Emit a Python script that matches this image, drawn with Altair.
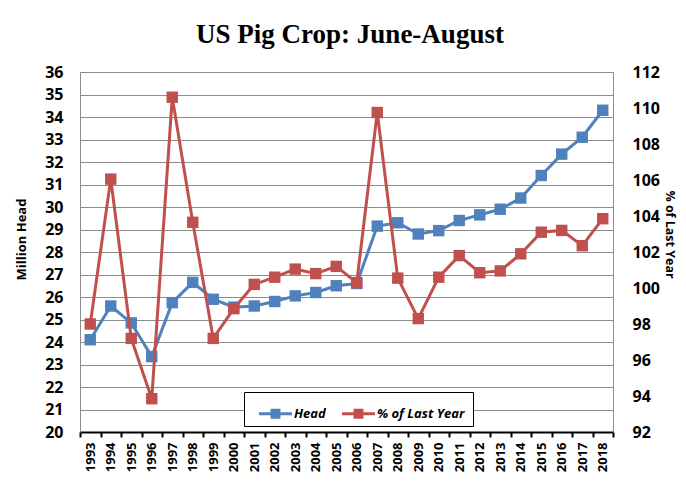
import altair as alt
import pandas as pd

title_text = "US Pig Crop: June-August"
years = ["1993", "1994", "1995", "1996", "1997", "1998", "1999", "2000", "2001",
         "2002", "2003", "2004", "2005", "2006", "2007", "2008", "2009", "2010",
         "2011", "2012", "2013", "2014", "2015", "2016", "2017", "2018"]
head = [24.1, 25.6, 24.85, 23.35, 25.75, 26.65, 25.9, 25.55, 25.6, 25.8, 26.05,
        26.2, 26.5, 26.6, 29.15, 29.3, 28.8, 28.95, 29.4, 29.65, 29.9, 30.4,
        31.4, 32.35, 33.1, 34.3]
pct = [98.0, 106.05, 97.2, 93.85, 110.6, 103.65, 97.2, 98.85, 100.2, 100.6,
       101.05, 100.8, 101.2, 100.3, 109.75, 100.55, 98.3, 100.6, 101.8, 100.85,
       100.95, 101.9, 103.1, 103.2, 102.35, 103.85]
series_names = ["Head", "% of Last Year"]
series_colors = ["#4F81BD", "#C0504D"]
left_ticks = list(range(20, 37))
right_ticks = list(range(92, 113, 2))

df_head = pd.DataFrame({"year": years, "value": head, "series": series_names[0]})
df_pct = pd.DataFrame({"year": years, "value": pct, "series": series_names[1]})
df_title = pd.DataFrame({"t": [title_text]})

FONT = "Open Sans"

x_enc = alt.X(
    "year:O",
    scale=alt.Scale(type="band", paddingInner=0, paddingOuter=0),
    axis=alt.Axis(
        title=None, labelAngle=270, labelFont=FONT, labelFontSize=13,
        labelFontWeight="bold", labelColor="black", labelPadding=5,
        domainColor="black", domainWidth=2, tickColor="black", tickWidth=2,
        tickSize=5, tickBand="extent", grid=False,
    ),
)

color_enc = alt.Color(
    "series:N",
    scale=alt.Scale(domain=series_names, range=series_colors),
    legend=alt.Legend(
        title="\u00a0", titleOrient="right", titlePadding=4, titleFontSize=13,
        orient="none", legendX=164, legendY=320, direction="horizontal",
        strokeColor="black", fillColor="white", padding=5,
        symbolType="M-1,-0.09H1V0.09H-1Z M-0.3,-0.3H0.3V0.3H-0.3Z",
        symbolSize=1089, symbolStrokeWidth=0, symbolOpacity=1, symbolOffset=10,
        labelFont=FONT, labelFontSize=13, labelFontWeight="bold",
        labelFontStyle="italic", labelColor="black", labelOffset=2,
        columnPadding=6,
    ),
)

y_left = alt.Y(
    "value:Q",
    scale=alt.Scale(domain=[20, 36], nice=False, zero=False),
    axis=alt.Axis(
        values=left_ticks, grid=True, gridColor="#8c8c8c", gridWidth=1,
        ticks=False, domainColor="#8c8c8c", labelPadding=17,
        labelFont=FONT, labelFontSize=16, labelFontWeight="bold", labelColor="black",
        title="Million Head", titleFont=FONT, titleFontSize=13,
        titleFontWeight="bold", titleColor="black", titleY=167, titlePadding=16,
    ),
)
y_right = alt.Y(
    "value:Q",
    scale=alt.Scale(domain=[92, 112], nice=False, zero=False),
    axis=alt.Axis(
        orient="right", values=right_ticks, grid=False, ticks=False,
        domainColor="#8c8c8c", labelPadding=19,
        labelFont=FONT, labelFontSize=16, labelFontWeight="bold", labelColor="black",
        title="% of Last Year", titleFont=FONT, titleFontSize=12.5,
        titleFontWeight="bold", titleColor="black", titleAngle=90, titleY=162,
        titlePadding=3,
    ),
)

head_line = alt.Chart(df_head).mark_line(color=series_colors[0], strokeWidth=3).encode(
    x=x_enc, y=y_left)
head_pts = alt.Chart(df_head).mark_point(shape="square", filled=True, size=130, opacity=1).encode(
    x=x_enc, y=y_left, color=color_enc)
pct_line = alt.Chart(df_pct).mark_line(color=series_colors[1], strokeWidth=3).encode(
    x=x_enc, y=y_right)
pct_pts = alt.Chart(df_pct).mark_point(shape="square", filled=True, size=130, opacity=1).encode(
    x=x_enc, y=y_right, color=color_enc)

title_mark = alt.Chart(df_title).mark_text(
    font="Liberation Serif", fontSize=27, fontWeight="bold", color="black",
    align="center", baseline="alphabetic",
).encode(text="t:N", x=alt.value(270), y=alt.value(-29))

left = alt.layer(head_line, head_pts)
right = alt.layer(pct_line, pct_pts)

chart = alt.layer(left, right, title_mark).resolve_scale(y="independent").properties(
    width=533, height=360,
    autosize=alt.AutoSizeParams(type="none"),
    padding={"left": 72, "top": 64, "right": 65, "bottom": 48},
).configure_view(stroke="#8c8c8c", strokeWidth=1).configure(background="white")

chart.save("out.html", embed_options={"renderer": "svg", "actions": False})
